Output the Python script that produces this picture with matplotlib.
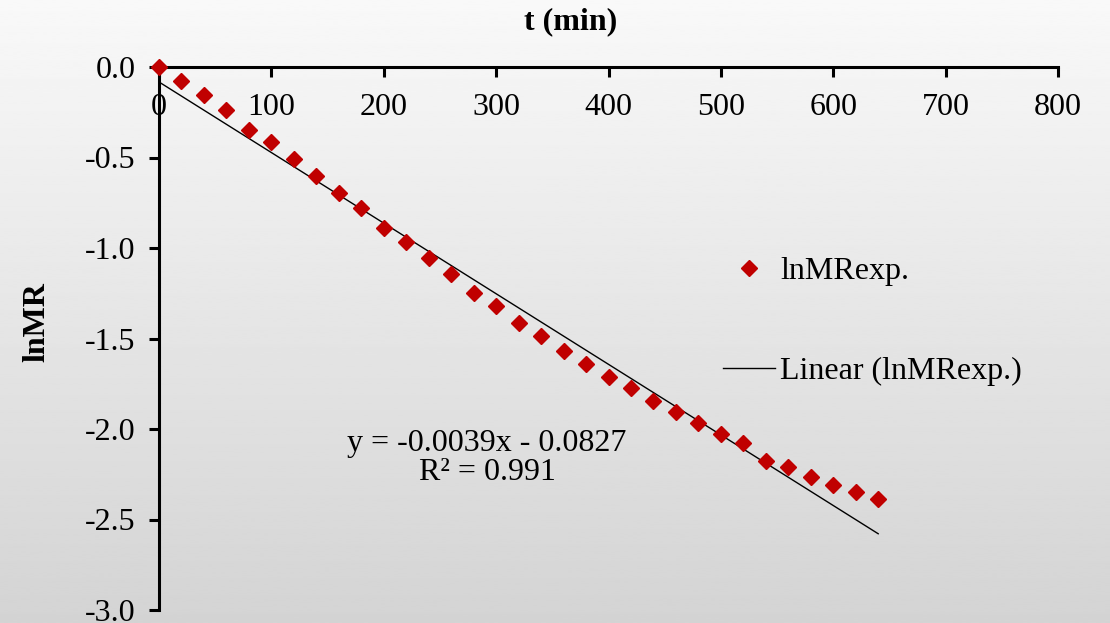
import numpy as np
import matplotlib
matplotlib.use("Agg")
import matplotlib.pyplot as plt
from matplotlib.ticker import FuncFormatter, MultipleLocator

plt.rcParams['font.family'] = ['Liberation Serif', 'DejaVu Serif']
plt.rcParams['axes.unicode_minus'] = False

# data
t_min = [0, 20, 40, 60, 80, 100, 120, 140, 160, 180, 200, 220, 240, 260, 280, 300,
         320, 340, 360, 380, 400, 420, 440, 460, 480, 500, 520, 540, 560, 580, 600, 620, 640]
ln_mr = [0.0, -0.077, -0.155, -0.238, -0.35, -0.414, -0.508, -0.602, -0.696, -0.779,
         -0.889, -0.967, -1.055, -1.144, -1.249, -1.320, -1.414, -1.486, -1.569, -1.641,
         -1.713, -1.773, -1.845, -1.906, -1.967, -2.028, -2.077, -2.177, -2.210, -2.265,
         -2.309, -2.348, -2.387]
slope = -0.0039
intercept = -0.0827
r2 = 0.991

fig = plt.figure(figsize=(11.1, 6.23), dpi=100)

# gradient background
bg = fig.add_axes([0, 0, 1, 1], zorder=-10)
grad = np.linspace(0.975, 0.83, 256).reshape(-1, 1)
bg.imshow(grad, aspect='auto', cmap='gray', vmin=0, vmax=1, extent=[0, 1, 0, 1])
bg.axis('off')

ax = fig.add_axes([159 / 1110, 1 - 610 / 623, (1058 - 159) / 1110, (610 - 67) / 623])
ax.patch.set_alpha(0)

x_fit = np.array([t_min[0], t_min[-1]])
ax.plot(x_fit, slope * x_fit + intercept, color='black', lw=1.0, label='Linear (lnMRexp.)', zorder=2)
ax.plot(t_min, ln_mr, linestyle='none', marker='D', ms=8.4, color='#C00000', label='lnMRexp.',
        zorder=3, clip_on=False)

ax.set_xlim(0, 800)
ax.set_ylim(-3.0, 0.0)
ax.xaxis.set_major_locator(MultipleLocator(100))
ax.yaxis.set_major_locator(MultipleLocator(0.5))
ax.yaxis.set_major_formatter(FuncFormatter(lambda v, p: '%.1f' % v))

ax.spines['top'].set_visible(False)
ax.spines['right'].set_visible(False)
ax.spines['bottom'].set_position(('data', 0))
for s in ['bottom', 'left']:
    ax.spines[s].set_linewidth(2.2)
ax.tick_params(axis='x', direction='out', length=7, width=2.2, pad=12, labelsize=23)
ax.tick_params(axis='y', direction='out', length=7, width=2.2, pad=10, labelsize=23)

ax.text(292, -2.16, 'y = -0.0039x - 0.0827\nR² = 0.991', ha='center', va='center',
        fontsize=23, linespacing=1.0)

fig.text(571 / 1110, 1 - 22 / 623, 't (min)', ha='center', va='center', fontsize=23, fontweight='bold')
fig.text(37 / 1110, 1 - 322 / 623, 'lnMR', ha='center', va='center', fontsize=23,
         fontweight='bold', rotation=90)

handles, labels = ax.get_legend_handles_labels()
ax.legend(handles[::-1], labels[::-1], loc='upper left', bbox_to_anchor=(723 / 1110, 1 - 257 / 623),
          bbox_transform=fig.transFigure, frameon=False, fontsize=23, numpoints=1,
          handlelength=1.63, handletextpad=0.17, labelspacing=2.2, borderpad=0, borderaxespad=0)

fig.savefig('out.png', dpi=100)
